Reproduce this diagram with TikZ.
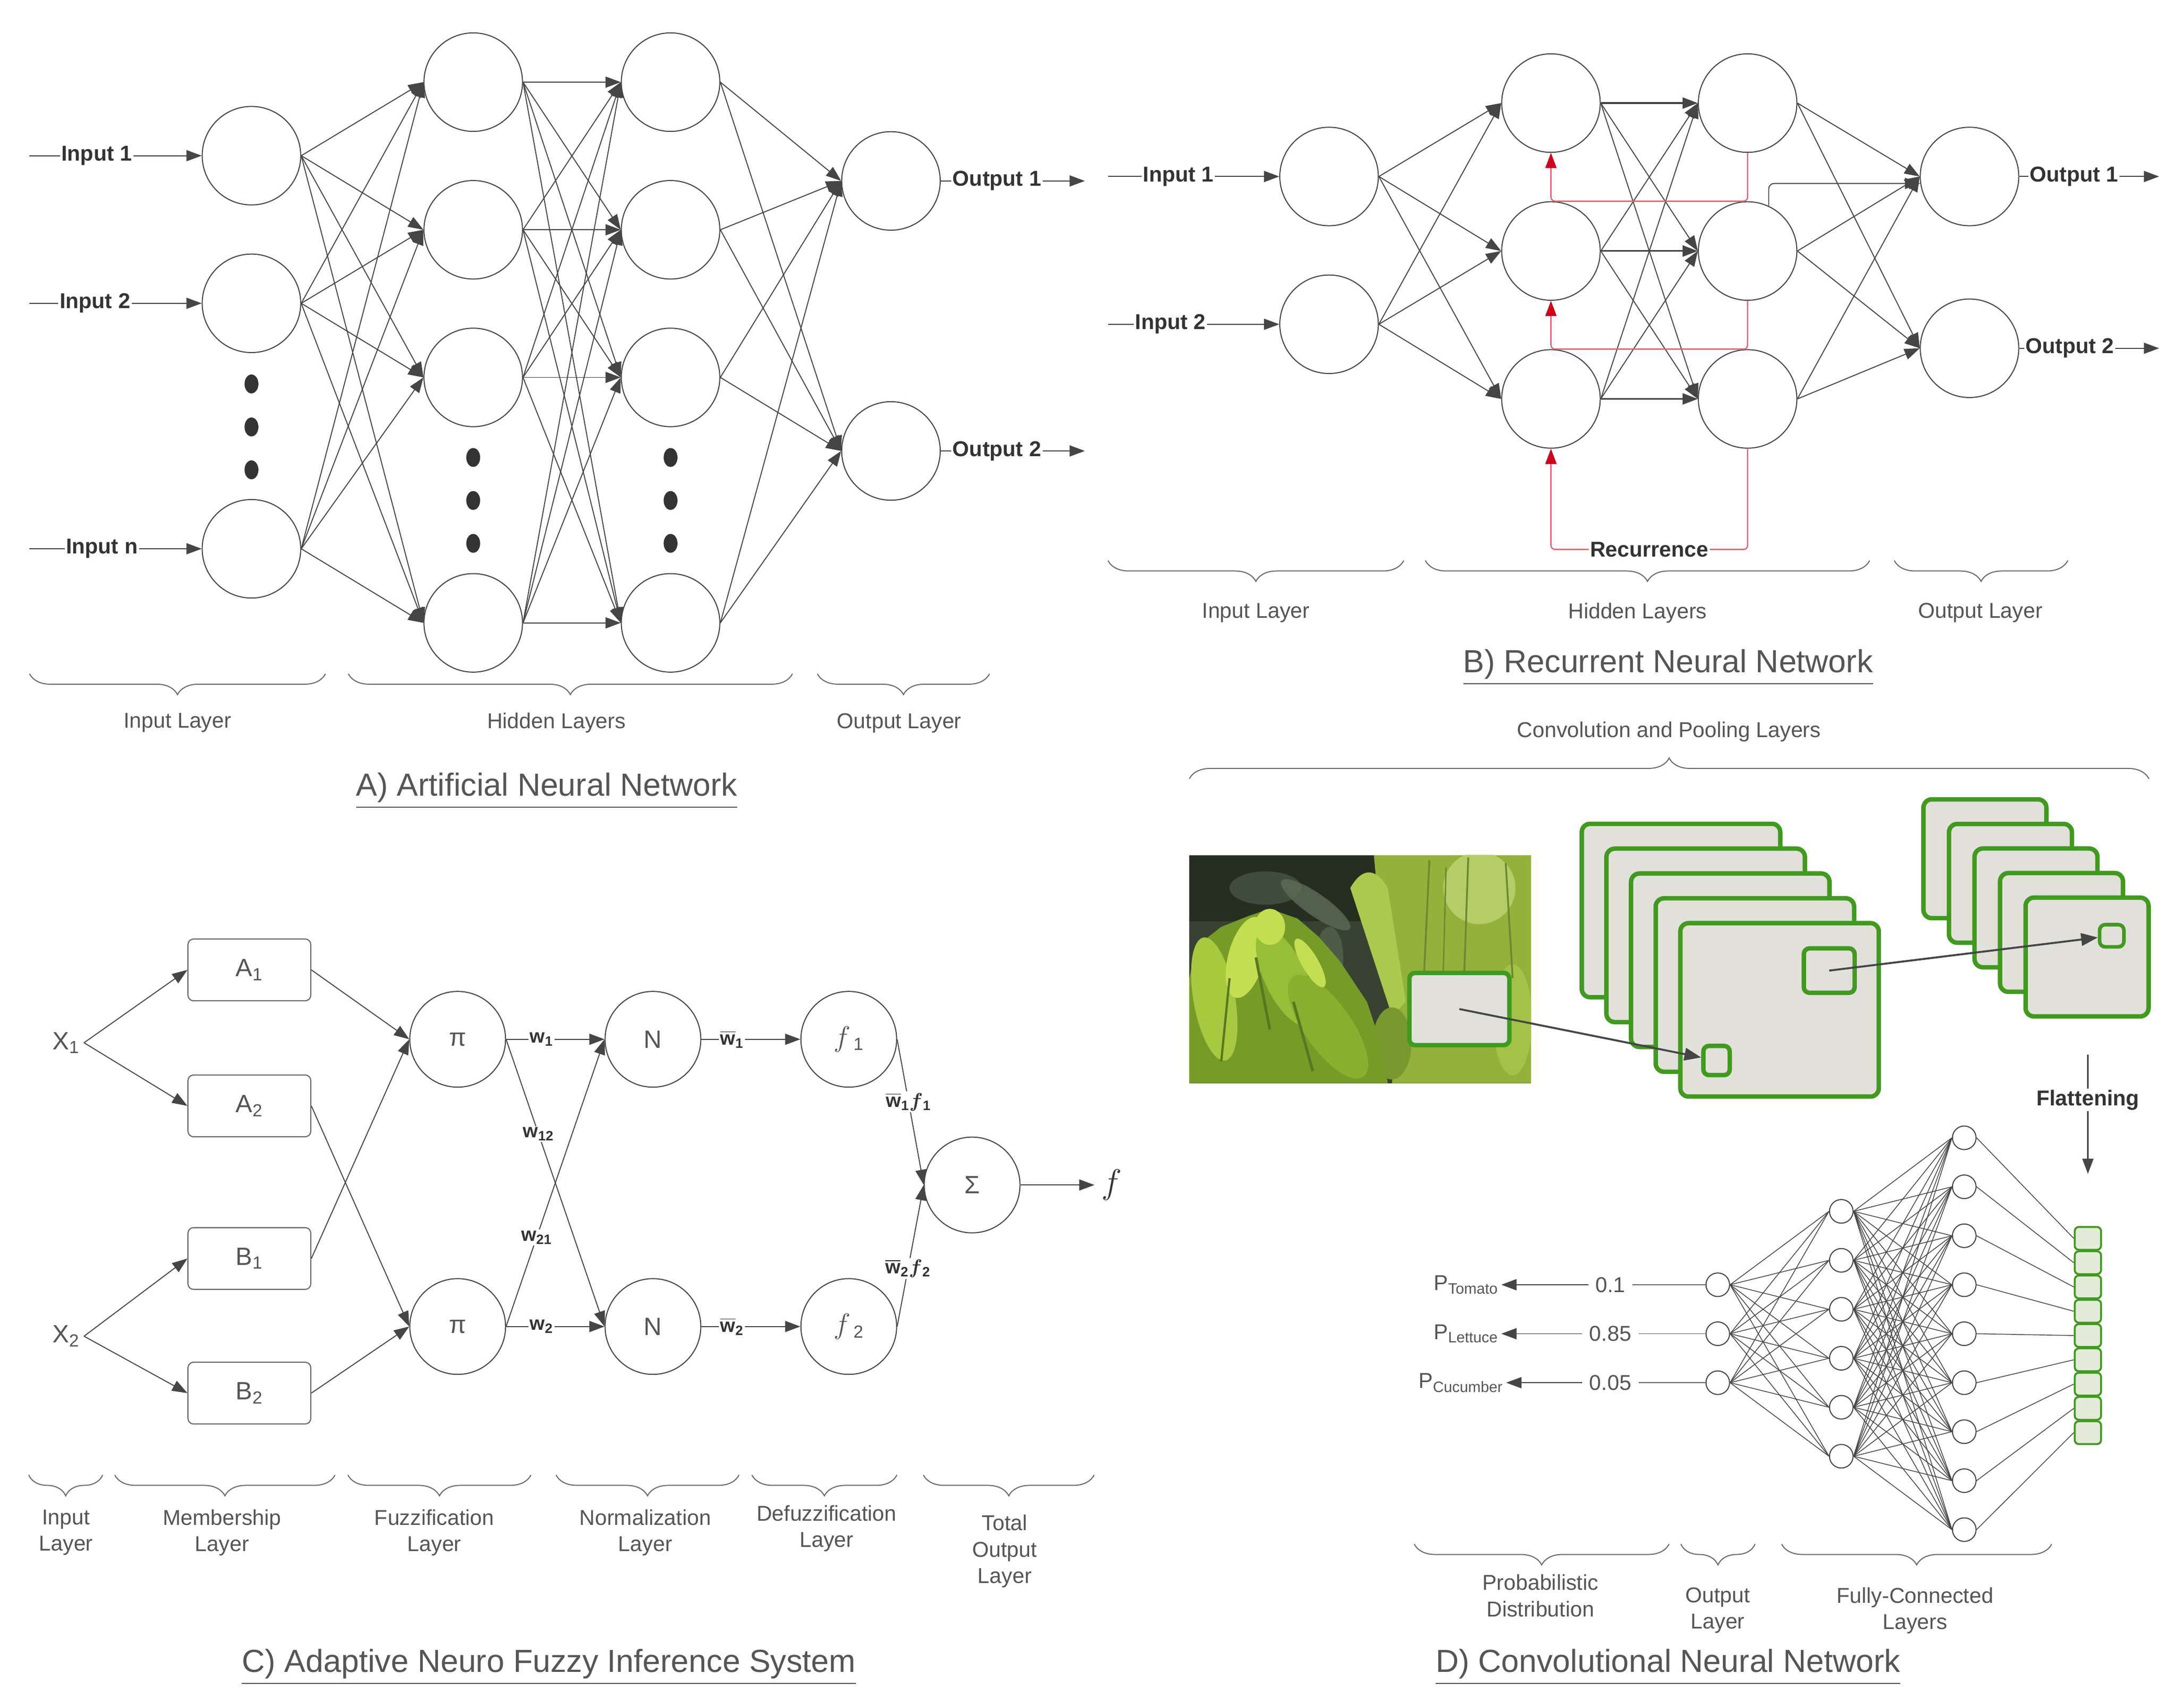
\documentclass[tikz,border=0pt]{standalone}
\usepackage{fontspec}
\setmainfont{Liberation Sans}
\usepackage{amsmath}
\usepackage{bm}
\usetikzlibrary{arrows.meta,decorations.pathreplacing,calc}
\definecolor{lnc}{HTML}{454545}
\definecolor{lnl}{HTML}{6A6A6A}
\definecolor{txt}{HTML}{555555}
\definecolor{txtd}{HTML}{333333}
\definecolor{recd}{HTML}{D0021B}
\definecolor{recl}{HTML}{E4606F}
\definecolor{grn}{HTML}{3E9B1E}
\definecolor{mapfill}{HTML}{E2E0DB}
\definecolor{sqfill}{HTML}{E4EBD9}
\definecolor{phbg}{RGB}{56,66,50}
\definecolor{phdk}{RGB}{38,46,34}
\definecolor{phbl}{RGB}{92,108,86}
\definecolor{phl0}{RGB}{118,156,40}
\definecolor{phl1}{RGB}{166,201,63}
\definecolor{phl2}{RGB}{196,222,82}
\definecolor{phl3}{RGB}{150,190,54}
\definecolor{phl4}{RGB}{136,176,46}
\definecolor{phsh}{RGB}{88,120,32}
\definecolor{phr0}{RGB}{146,178,60}
\definecolor{phr1}{RGB}{170,202,78}
\definecolor{phr2}{RGB}{186,210,112}
\definecolor{phr3}{RGB}{120,152,48}
\definecolor{phvn}{RGB}{108,138,46}
\newcommand\lblfont{\fontsize{15.5}{19}\selectfont}
\newcommand\ttlfont{\fontsize{23}{27}\selectfont}
\newcommand\cfont{\fontsize{18}{21}\selectfont}
\newcommand\wfont{\fontsize{14}{16}\selectfont\bfseries}
\begin{document}
\begin{tikzpicture}[x=1pt,y=-1pt,
  neuron/.style={circle,draw=lnc,line width=0.75pt,minimum size=71pt,inner sep=0pt,fill=white},
  cneuron/.style={neuron,minimum size=69pt,font=\cfont,text=txt},
  fcn/.style={circle,draw=lnc,line width=0.75pt,minimum size=17pt,inner sep=0pt,fill=white},
  conn/.style={draw=lnc,line width=0.7pt,-{Triangle[length=11pt,width=8pt]}},
  hconn/.style={conn,line width=1.2pt},
  darrow/.style={draw=lnc,line width=1.4pt,-{Triangle[length=12pt,width=9pt]}},
  fcl/.style={draw=lnc,line width=0.55pt},
  recline/.style={draw=recl,line width=0.9pt,rounded corners=3pt,-{Triangle[length=11pt,width=8pt,color=recd,fill=recd]}},
  iolbl/.style={font=\lblfont\bfseries,text=txtd,fill=white,inner sep=1pt},
  layerlbl/.style={font=\lblfont,text=txt,align=center},
  ttl/.style={font=\ttlfont,text=txt},
  bdown/.style={draw=lnl,line width=0.75pt,decorate,decoration={brace,mirror,amplitude=15pt}},
  bup/.style={draw=lnl,line width=0.75pt,decorate,decoration={brace,amplitude=15pt}},
  cbox/.style={draw=lnl,line width=0.8pt,rounded corners=4pt,minimum width=88.5pt,minimum height=44.5pt,font=\cfont,text=txt,fill=white},
  ctext/.style={font=\cfont,text=txt,inner sep=3pt},
  wlbl/.style={font=\wfont,text=txtd,fill=white,inner sep=1pt},
  fmap/.style={draw=grn,line width=3.2pt,fill=mapfill,rounded corners=6pt},
  fbox/.style={draw=grn,line width=3.2pt,fill=mapfill,rounded corners=4pt,inner sep=0pt},
  fsq/.style={draw=grn,line width=1.4pt,fill=sqfill,rounded corners=3pt,minimum width=19pt,minimum height=16.5pt,inner sep=0pt},
  dval/.style={font=\lblfont,text=txt,inner sep=5pt},
  plbl/.style={font=\lblfont,text=txt,inner sep=2pt},
]
\useasboundingbox (0,0) rectangle (1568,1230.6);
\fill[white] (0,0) rectangle (1568,1230.6);

%================ A) ANN ================
\foreach \n/\y in {1/112.2,2/218.6,n/395.5} \node[neuron] (Ai\n) at (181.2,\y) {};
\foreach \n/\y in {a/59.2,b/165.6,c/272,d/448.9} {
  \node[neuron] (Ah\n) at (341,\y) {};
  \node[neuron] (Ag\n) at (483.2,\y) {};
}
\foreach \n/\y in {1/130.4,2/325} \node[neuron] (Ao\n) at (642,\y) {};
\foreach \s in {Ai1,Ai2,Ain} \foreach \t in {Aha,Ahb,Ahc,Ahd} \draw[conn] (\s.east) -- (\t.west);
\foreach \s in {Aha,Ahb,Ahc,Ahd} \foreach \t in {Aga,Agb,Agc,Agd} \draw[conn] (\s.east) -- (\t.west);
\foreach \s in {Aga,Agb,Agc,Agd} \foreach \t in {Ao1,Ao2} \draw[conn] (\s.east) -- (\t.west);
\foreach \y in {276.7,307.7,338.6} \fill[txtd] (181.2,\y) ellipse [x radius=5pt,y radius=6.8pt];
\foreach \y in {329.7,360.7,391.6} {
  \fill[txtd] (341,\y) ellipse [x radius=5pt,y radius=6.8pt];
  \fill[txtd] (483.2,\y) ellipse [x radius=5pt,y radius=6.8pt];
}
\foreach \n/\y/\p in {1/112.2/0.39,2/218.6/0.38,n/395.5/0.42} {
  \coordinate (Aa\n) at (21.3,\y);
  \draw[conn] (Aa\n) -- node[iolbl,pos=\p]{Input \n} (Ai\n.west);
}
\foreach \n/\y in {1/130.4,2/325} {
  \coordinate (Ae\n) at (781.7,\y);
  \draw[conn] (Ao\n.east) -- node[iolbl,pos=0.39]{Output \n} (Ae\n);
}
\draw[bdown] (21.3,485.6) -- (234.5,485.6);
\draw[bdown] (251,485.6) -- (571,485.6);
\draw[bdown] (589,485.6) -- (713,485.6);
\node[layerlbl] (AL1) at (127.9,521) {Input Layer};
\node[layerlbl] (AL2) at (401,521) {Hidden Layers};
\node[layerlbl] (AL3) at (648,521) {Output Layer};
\node[ttl] (AT) at (394,570) {\underline{A) Artificial Neural Network}};

%================ B) RNN ================
\foreach \n/\y in {1/127.2,2/233.7} \node[neuron] (Bi\n) at (957.7,\y) {};
\foreach \n/\y in {a/74.3,b/180.9,c/287.5} {
  \node[neuron] (Bh\n) at (1117.6,\y) {};
  \node[neuron] (Bg\n) at (1259.3,\y) {};
}
\foreach \n/\y in {1/127.2,2/251} \node[neuron] (Bo\n) at (1419.2,\y) {};
\foreach \s in {Bi1,Bi2} \foreach \t in {Bha,Bhb,Bhc} \draw[conn] (\s.east) -- (\t.west);
\foreach \s/\t in {a/b,a/c,b/a,b/c,c/a,c/b} \draw[conn] (Bh\s.east) -- (Bg\t.west);
\foreach \s in {a,b,c} \draw[hconn] (Bh\s.east) -- (Bg\s.west);
\foreach \s in {Bga,Bgb,Bgc} \foreach \t in {Bo1,Bo2} \draw[conn] (\s.east) -- (\t.west);
\draw[conn,rounded corners=4pt] (Bgb.65) |- (Bo1.188);
\draw[recline] (Bga.south) -- (Bgb.north) -- (Bhb.north) -- (Bha.south);
\draw[recline] (Bgb.south) -- (Bgc.north) -- (Bhc.north) -- (Bhb.south);
\coordinate (Br1) at (1259.3,396);
\coordinate (Br2) at (1117.6,396);
\draw[recline] (Bgc.south) -- (Br1) -- node[iolbl]{Recurrence} (Br2) -- (Bhc.south);
\foreach \n/\y/\p in {1/127.2/0.41,2/233.7/0.365} {
  \coordinate (Ba\n) at (798.4,\y);
  \draw[conn] (Ba\n) -- node[iolbl,pos=\p]{Input \n} (Bi\n.west);
}
\foreach \n/\y/\p in {1/127.2/0.39,2/251/0.36} {
  \coordinate (Be\n) at (1555.8,\y);
  \draw[conn] (Bo\n.east) -- node[iolbl,pos=\p]{Output \n} (Be\n);
}
\draw[bdown] (798.4,404) -- (1011.5,404);
\draw[bdown] (1027.1,404) -- (1347.2,404);
\draw[bdown] (1365,404) -- (1490,404);
\node[layerlbl] (BL1) at (905,441.7) {Input Layer};
\node[layerlbl] (BL2) at (1180,441.7) {Hidden Layers};
\node[layerlbl] (BL3) at (1427,441.7) {Output Layer};
\node[ttl] (BT) at (1202,481) {\underline{B) Recurrent Neural Network}};

%================ C) ANFIS ================
\node[ctext] (CX1) at (47.6,751.5) {X\textsubscript{1}};
\node[ctext] (CX2) at (47.6,963) {X\textsubscript{2}};
\node[cbox] (CA1) at (179.7,699) {A\textsubscript{1}};
\node[cbox] (CA2) at (179.7,797) {A\textsubscript{2}};
\node[cbox] (CB1) at (179.7,907) {B\textsubscript{1}};
\node[cbox] (CB2) at (179.7,1004) {B\textsubscript{2}};
\node[cneuron] (Cp1) at (329.8,749) {π};
\node[cneuron] (Cp2) at (329.8,956) {π};
\node[cneuron] (Cn1) at (470.5,749) {N};
\node[cneuron] (Cn2) at (470.5,956) {N};
\node[cneuron] (Cf1) at (611.6,749) {{\fontsize{21}{21}\selectfont$f$}\textsubscript{\,1}};
\node[cneuron] (Cf2) at (611.6,956) {{\fontsize{21}{21}\selectfont$f$}\textsubscript{\,2}};
\node[cneuron] (Cs) at (700.5,854) {Σ};
\draw[conn] (CX1.east) -- (CA1.west);
\draw[conn] (CX1.east) -- (CA2.west);
\draw[conn] (CX2.east) -- (CB1.west);
\draw[conn] (CX2.east) -- (CB2.west);
\draw[conn] (CA1.east) -- (Cp1.west);
\draw[conn] (CA2.east) -- (Cp2.west);
\draw[conn] (CB1.east) -- (Cp1.west);
\draw[conn] (CB2.east) -- (Cp2.west);
\draw[conn] (Cp1.east) -- node[wlbl,pos=0.36]{w\textsubscript{1}} (Cn1.west);
\draw[conn] (Cp2.east) -- node[wlbl,pos=0.36]{w\textsubscript{2}} (Cn2.west);
\draw[conn] (Cp1.east) -- node[wlbl,pos=0.33]{w\textsubscript{12}} (Cn2.west);
\draw[conn] (Cp2.east) -- node[wlbl,pos=0.31]{w\textsubscript{21}} (Cn1.west);
\draw[conn] (Cn1.east) -- node[wlbl,pos=0.31]{$\overline{\hbox{w}}$\textsubscript{1}} (Cf1.west);
\draw[conn] (Cn2.east) -- node[wlbl,pos=0.31]{$\overline{\hbox{w}}$\textsubscript{2}} (Cf2.west);
\draw[conn] (Cf1.east) -- node[wlbl,pos=0.43]{$\overline{\hbox{w}}$\textsubscript{1}$\bm{f}$\textsubscript{1}} (Cs.west);
\draw[conn] (Cf2.east) -- node[wlbl,pos=0.41]{$\overline{\hbox{w}}$\textsubscript{2}$\bm{f}$\textsubscript{2}} (Cs.west);
\coordinate (Cfe) at (788.6,854);
\draw[conn] (Cs.east) -- (Cfe);
\node[text=txtd] (Cf) at (801,854) {\fontsize{32}{32}\selectfont $f$};
\draw[bdown] (20.7,1063) -- (74,1063);
\draw[bdown] (82.7,1063) -- (241.4,1063);
\draw[bdown] (250.7,1063) -- (382.6,1063);
\draw[bdown] (400.7,1063) -- (532.5,1063);
\draw[bdown] (541.8,1063) -- (646.3,1063);
\draw[bdown] (665.4,1063) -- (788.4,1063);
\node[layerlbl] (CL1) at (47.6,1104.5) {Input\\Layer};
\node[layerlbl] (CL2) at (160,1104.5) {Membership\\Layer};
\node[layerlbl] (CL3) at (313,1104.5) {Fuzzification\\Layer};
\node[layerlbl] (CL4) at (465,1104.5) {Normalization\\Layer};
\node[layerlbl] (CL5) at (595.6,1101.5) {Defuzzification\\Layer};
\node[layerlbl] (CL6) at (724,1118) {Total\\Output\\Layer};
\node[ttl] (CT) at (395.5,1201.5) {\underline{C) Adaptive Neuro Fuzzy Inference System}};

%================ D) CNN ================
\node[layerlbl] (DLc) at (1202.7,527.5) {Convolution and Pooling Layers};
\draw[bup] (857,561.3) -- (1548.5,561.3);
% photo (drawn impression of the lettuce picture)
\begin{scope}
\clip (857,616.4) rectangle (1103.3,780.6);
\fill[phbg] (857,616.4) rectangle (1103.3,780.6);
\fill[phdk] (857,616.4) rectangle (1000,664);
\fill[phbl,opacity=0.8,rotate around={-35:(948,652)}] (948,652) ellipse [x radius=30pt,y radius=8pt];
\fill[phbl,opacity=0.5] (912,640) ellipse [x radius=26pt,y radius=12pt];
\fill[phbl,opacity=0.6] (958,690) ellipse [x radius=10pt,y radius=22pt];
% right plant
\fill[phr0] (990,616.4) -- (1103.3,616.4) -- (1103.3,780.6) -- (1003,780.6) -- (1008,742) -- (1000,700) -- (994,660) -- cycle;
\fill[phr2,opacity=0.85] (1066,640) ellipse [x radius=26pt,y radius=26pt];
\fill[phr1] (973,640) .. controls (982,624) and (992,626) .. (1000,640) -- (1013,722) -- (1003,732) -- cycle;
\fill[phr3] (1003,752) ellipse [x radius=14pt,y radius=26pt];
\fill[phr1,opacity=0.7] (1090,735) ellipse [x radius=14pt,y radius=40pt];
\draw[phvn,line width=1.3pt] (1030,620) -- (1026,705);
\draw[phvn,line width=1.3pt] (1058,618) -- (1055,705);
\draw[phvn,line width=1.3pt] (1085,622) -- (1090,705);
\draw[phvn,line width=1pt] (1042,625) -- (1040,700);
% left head
\fill[phl0] (857,705) -- (862,682) -- (880,668) -- (900,660) -- (915,655) -- (935,662) -- (950,675) -- (965,692) -- (985,722) -- (995,752) -- (1000,780.6) -- (857,780.6) -- cycle;
\fill[phl1,rotate around={10:(875,720)}] (875,720) ellipse [x radius=15pt,y radius=45pt];
\fill[phl2,rotate around={-15:(898,690)}] (898,690) ellipse [x radius=13pt,y radius=30pt];
\fill[phl3,rotate around={25:(926,704)}] (926,704) ellipse [x radius=15pt,y radius=38pt];
\fill[phl2] (915,668) ellipse [x radius=11pt,y radius=13pt];
\fill[phl4,rotate around={35:(957,740)}] (957,740) ellipse [x radius=17pt,y radius=44pt];
\fill[phl2,rotate around={30:(944,694)}] (944,694) ellipse [x radius=6pt,y radius=20pt];
\draw[phsh,line width=2pt] (905,690) -- (915,742);
\draw[phsh,line width=2pt] (932,722) -- (946,772);
\draw[phsh,line width=1.6pt] (886,705) -- (880,765);
\end{scope}
\node[fbox,minimum width=72pt,minimum height=52pt] (Dpb) at (1051.6,727.2) {};
% stack 1
\foreach \i in {0,...,4} \draw[fmap] ({1139.8+17.75*\i},{593.7+17.9*\i}) rectangle ++(143,125);
\node[fbox,minimum width=19pt,minimum height=21pt] (Dsb) at (1236.9,764.3) {};
\node[fbox,minimum width=36.6pt,minimum height=32pt] (Dlb) at (1318.1,699.5) {};
% stack 2
\foreach \i in {0,...,4} \draw[fmap] ({1386+18.4*\i},{576.1+17.7*\i}) rectangle ++(88.6,85.6);
\node[fbox,line width=2.6pt,minimum width=17.5pt,minimum height=16pt] (Dss) at (1521.7,674.4) {};
\draw[darrow] (Dpb.center) -- (Dsb);
\draw[darrow] (Dlb.center) -- (Dss);
% flattening
\coordinate (Dft) at (1504.5,760);
\coordinate (Dfb) at (1504.5,846);
\draw[conn,line width=0.9pt] (Dft) -- node[iolbl,pos=0.38]{Flattening} (Dfb);
\foreach \i in {1,...,9} \node[fsq] (Dq\i) at (1504.5,{892.5+17.5*(\i-1)}) {};
% fully connected
\foreach \i in {1,...,9} \node[fcn] (Dk\i) at (1415.4,{820+35.3*(\i-1)}) {};
\foreach \i in {1,...,6} \node[fcn] (Dm\i) at (1326.8,{873+35.3*(\i-1)}) {};
\foreach \i/\y in {1/925.9,2/961.2,3/996.5} \node[fcn] (DO\i) at (1237.8,\y) {};
\foreach \a in {1,2,3} \foreach \b in {1,...,6} \draw[fcl] (DO\a.east) -- (Dm\b.west);
\foreach \a in {1,...,6} \foreach \b in {1,...,9} \draw[fcl] (Dm\a.east) -- (Dk\b.west);
\foreach \i in {1,...,9} \draw[fcl] (Dk\i.east) -- (Dq\i.west);
% probabilities
\foreach \i/\v/\p/\y/\px in {1/0.1/Tomato/925.9/1056.4,2/0.85/Lettuce/961.2/1056.4,3/0.05/Cucumber/996.5/1052.7} {
  \node[dval] (Dv\i) at (1160.4,\y) {\v};
  \node[plbl] (Dp\i) at (\px,\y) {P\textsubscript{\p}};
  \draw[fcl,draw=lnl] (DO\i.west) -- (Dv\i.east);
  \draw[conn] (Dv\i.west) -- (Dp\i.east);
}
\draw[bdown] (1019.1,1112.8) -- (1202.7,1112.8);
\draw[bdown] (1211.2,1112.8) -- (1264.7,1112.8);
\draw[bdown] (1283.8,1112.8) -- (1478.4,1112.8);
\node[layerlbl] (DL1) at (1110,1150) {Probabilistic\\Distribution};
\node[layerlbl] (DL2) at (1237.8,1160.7) {Output\\Layer};
\node[layerlbl] (DL3) at (1380,1160.7) {Fully-Connected\\Layers};
\node[ttl] (DT) at (1202,1201.5) {\underline{D) Convolutional Neural Network}};
\end{tikzpicture}
\end{document}
